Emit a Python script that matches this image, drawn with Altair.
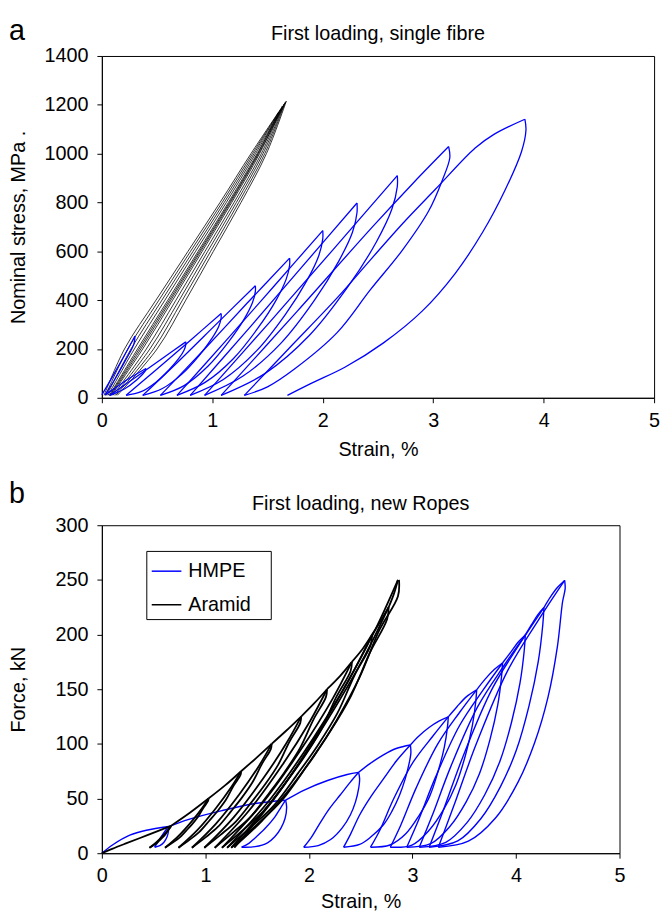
import altair as alt
import pandas as pd

FONT = "Liberation Sans"
MATERIALS = ["HMPE", "Aramid"]
COLORS = ["#0000ff", "#000000"]
PANEL_LABELS = ["a", "b"]
TITLES = ["First loading, single fibre", "First loading, new Ropes"]
X_TITLE = "Strain, %"
Y_TITLES = ["Nominal stress, MPa .", "Force, kN"]
X_TICKS = [0, 1, 2, 3, 4, 5]
A_Y_TICKS = [0, 200, 400, 600, 800, 1000, 1200, 1400]
B_Y_TICKS = [0, 50, 100, 150, 200, 250, 300]

# ---- panel a: single fibre, (strain %, stress MPa), one list per loading / unloading branch
A_HMPE = [
    [(0.00, 12), (0.10, 90), (0.20, 170), (0.30, 253)],
    [(0.30, 253), (0.29, 220), (0.21, 150), (0.11, 70), (0.03, 12)],
    [(0.03, 12), (0.12, 40), (0.25, 80), (0.40, 120)],
    [(0.40, 120), (0.39, 108), (0.32, 75), (0.20, 35), (0.07, 10)],
    [(0.07, 10), (0.30, 82), (0.55, 162), (0.76, 229)],
    [(0.76, 229), (0.76, 218), (0.744, 195), (0.695, 160), (0.609, 115), (0.49, 64), (0.355, 25), (0.22, 10)],
    [(0.22, 10), (0.50, 118), (0.80, 235), (1.08, 345)],
    [(1.08, 345), (1.08, 328), (1.059, 293), (0.995, 242), (0.881, 173), (0.725, 97), (0.548, 38), (0.37, 10)],
    [(0.37, 10), (0.70, 152), (1.05, 308), (1.39, 459)],
    [(1.39, 459), (1.39, 436), (1.364, 390), (1.287, 321), (1.149, 230), (0.96, 129), (0.745, 50), (0.53, 10)],
    [(0.53, 10), (0.92, 195), (1.31, 385), (1.70, 572)],
    [(1.70, 572), (1.70, 543), (1.669, 486), (1.578, 400), (1.414, 286), (1.19, 160), (0.935, 63), (0.68, 10)],
    [(0.68, 10), (1.12, 232), (1.56, 458), (2.00, 685)],
    [(2.00, 685), (2.00, 651), (1.964, 582), (1.856, 480), (1.664, 343), (1.40, 192), (1.10, 75), (0.80, 10)],
    [(0.80, 10), (1.30, 268), (1.80, 530), (2.31, 798)],
    [(2.31, 798), (2.31, 758), (2.269, 678), (2.144, 559), (1.924, 399), (1.62, 223), (1.275, 88), (0.93, 10)],
    [(0.93, 10), (1.51, 305), (2.09, 605), (2.675, 910)],
    [(2.675, 910), (2.675, 865), (2.627, 774), (2.484, 637), (2.228, 455), (1.878, 255), (1.479, 100), (1.08, 10)],
    [(1.08, 10), (1.77, 355), (2.45, 700), (2.82, 880), (3.14, 1029)],
    [(3.14, 1029), (3.15, 982), (3.08, 888), (2.96, 766), (2.72, 604), (2.43, 442), (2.13, 267), (1.75, 120), (1.50, 45), (1.29, 10)],
    [(1.29, 10), (1.70, 205), (2.13, 409), (2.43, 564), (2.72, 712), (3.02, 854), (3.38, 1023), (3.55, 1079), (3.83, 1141)],
    [(3.83, 1141), (3.84, 1097), (3.80, 1009), (3.65, 850), (3.45, 680), (3.20, 510), (2.90, 355), (2.55, 225), (2.20, 125), (1.90, 60), (1.68, 10)],
]

A_ARAMID = [
    [(0.02, 10), (0.205, 200), (0.49, 400), (0.78, 600), (1.07, 800), (1.35, 1000), (1.60, 1170)],
    [(1.60, 1170), (1.413, 1000), (1.156, 800), (0.884, 600), (0.612, 400), (0.338, 200), (0.074, 10)],
    [(0.032, 10), (0.235, 200), (0.517, 400), (0.803, 600), (1.089, 800), (1.364, 1000), (1.62, 1183)],
    [(1.62, 1183), (1.428, 1000), (1.176, 800), (0.909, 600), (0.641, 400), (0.37, 200), (0.087, 10)],
    [(0.044, 10), (0.264, 200), (0.544, 400), (0.826, 600), (1.108, 800), (1.378, 1000), (1.635, 1195)],
    [(1.635, 1195), (1.444, 1000), (1.197, 800), (0.934, 600), (0.671, 400), (0.403, 200), (0.10, 10)],
    [(0.056, 10), (0.294, 200), (0.571, 400), (0.849, 600), (1.127, 800), (1.392, 1000), (1.65, 1203)],
    [(1.65, 1203), (1.459, 1000), (1.218, 800), (0.959, 600), (0.701, 400), (0.435, 200), (0.114, 10)],
    [(0.068, 10), (0.323, 200), (0.598, 400), (0.872, 600), (1.146, 800), (1.406, 1000), (1.66, 1210)],
    [(1.66, 1210), (1.475, 1000), (1.239, 800), (0.985, 600), (0.73, 400), (0.468, 200), (0.127, 10)],
    [(0.08, 10), (0.353, 200), (0.625, 400), (0.895, 600), (1.165, 800), (1.42, 1000), (1.67, 1215)],
    [(1.67, 1215), (1.49, 1000), (1.26, 800), (1.01, 600), (0.76, 400), (0.50, 200), (0.14, 10)],
]

# ---- panel b: new ropes, (strain %, force kN)
B_HMPE = [
    [(0, 0), (0.11, 8), (0.27, 16.5), (0.43, 21), (0.646, 24.4)],
    [(0.646, 24.4), (0.645, 21), (0.63, 15), (0.60, 10), (0.56, 7), (0.51, 5.5)],
    [(0.51, 5.5), (0.54, 10), (0.58, 16), (0.62, 21.5), (0.646, 24.4)],
    [(0.646, 24.4), (0.84, 31), (1.16, 39), (1.48, 45.5), (1.775, 48.5)],
    [(1.775, 48.5), (1.785, 42), (1.77, 32), (1.73, 23), (1.67, 15), (1.60, 9.5), (1.48, 6), (1.35, 5.5)],
    [(1.35, 5.5), (1.42, 9), (1.48, 14), (1.58, 23), (1.67, 33), (1.73, 42), (1.775, 48.5)],
    [(1.775, 48.5), (1.96, 58), (2.18, 66.5), (2.37, 72), (2.48, 74)],
    [(2.48, 74), (2.49, 68), (2.48, 59), (2.45, 47), (2.40, 35), (2.32, 23), (2.21, 12.5), (2.09, 7), (1.95, 5.5)],
    [(1.95, 5.5), (2.02, 14), (2.11, 28), (2.20, 41), (2.30, 53), (2.40, 65), (2.48, 74)],
    [(2.48, 74), (2.59, 82), (2.72, 90), (2.85, 96), (2.98, 99)],
    [(2.98, 99), (2.985, 92), (2.97, 83), (2.93, 68), (2.875, 53), (2.80, 38), (2.72, 26), (2.60, 15), (2.49, 8), (2.335, 5.5)],
    [(2.335, 5.5), (2.40, 17), (2.49, 35), (2.60, 52), (2.72, 68), (2.85, 85), (2.98, 99)],
    [(2.98, 99), (3.06, 107), (3.16, 115), (3.26, 121), (3.346, 124.7)],
    [(3.346, 124.7), (3.339, 116), (3.308, 97), (3.248, 75), (3.166, 52), (3.061, 34), (2.933, 17.5), (2.783, 7.5), (2.595, 5.5)],
    [(2.595, 5.5), (2.685, 21), (2.82, 50), (3.008, 83.5), (3.196, 107), (3.346, 124.7)],
    [(3.346, 124.7), (3.43, 134), (3.52, 143), (3.62, 149.4)],
    [(3.62, 149.4), (3.612, 139), (3.578, 116.5), (3.512, 89.6), (3.42, 62.7), (3.303, 40.3), (3.161, 21), (2.995, 7.5), (2.786, 5.5)],
    [(2.786, 5.5), (2.886, 25.4), (3.036, 59.8), (3.245, 100), (3.453, 128.5), (3.62, 149.4)],
    [(3.62, 149.4), (3.70, 159), (3.79, 168), (3.87, 174)],
    [(3.87, 174), (3.861, 162), (3.824, 135.7), (3.75, 104.4), (3.648, 73), (3.519, 47), (3.361, 24.4), (3.176, 8.7), (2.945, 5.5)],
    [(2.945, 5.5), (3.056, 29.6), (3.223, 69.6), (3.454, 116.6), (3.685, 149.6), (3.87, 174)],
    [(3.87, 174), (3.95, 184), (4.02, 193), (4.09, 199.7)],
    [(4.09, 199.7), (4.08, 185.7), (4.039, 155.8), (3.957, 119.8), (3.844, 83.9), (3.701, 53.9), (3.527, 28), (3.322, 10), (3.066, 5.5)],
    [(3.066, 5.5), (3.189, 34), (3.373, 79.9), (3.629, 133.8), (3.885, 171.7), (4.09, 199.7)],
    [(4.09, 199.7), (4.15, 209), (4.21, 218), (4.27, 224.7)],
    [(4.27, 224.7), (4.259, 209), (4.215, 175.3), (4.126, 134.8), (4.004, 94.4), (3.849, 60.7), (3.66, 31.5), (3.438, 11.2), (3.161, 5.5)],
    [(3.161, 5.5), (3.294, 38.2), (3.494, 89.9), (3.771, 150.5), (4.048, 193.2), (4.27, 224.7)],
    [(4.27, 224.7), (4.33, 234), (4.40, 243), (4.47, 249.5)],
    [(4.47, 249.5), (4.475, 242), (4.45, 230), (4.40, 189), (4.31, 143), (4.18, 101), (4.02, 65), (3.80, 32), (3.54, 11), (3.25, 5.5)],
    [(3.25, 5.5), (3.396, 42.4), (3.616, 99.8), (3.921, 167.2), (4.226, 214.6), (4.47, 249.5)],
]

B_ARAMID = [
    [(0, 0), (0.1, 4), (0.22, 8.5), (0.44, 16.5), (0.667, 25)],
    [(0.667, 25), (0.665, 24), (0.642, 21.2), (0.617, 17.6), (0.589, 14.6), (0.561, 12), (0.527, 9), (0.495, 7), (0.46, 5)],
    [(0.46, 5), (0.522, 9.6), (0.584, 15.4), (0.636, 21), (0.667, 25)],
    [(0.667, 25), (0.85, 37), (1.03, 50)],
    [(1.03, 50), (1.026, 47.75), (0.98, 41.45), (0.929, 33.35), (0.873, 26.6), (0.816, 20.75), (0.747, 14), (0.681, 9.5), (0.61, 5)],
    [(0.61, 5), (0.736, 15.35), (0.862, 28.4), (0.967, 41), (1.03, 50)],
    [(1.03, 50), (1.19, 62), (1.345, 75)],
    [(1.345, 75), (1.339, 71.5), (1.272, 61.7), (1.2, 49.1), (1.118, 38.6), (1.036, 29.5), (0.937, 19), (0.843, 12), (0.74, 5)],
    [(0.74, 5), (0.922, 21.1), (1.103, 41.4), (1.254, 61), (1.345, 75)],
    [(1.345, 75), (1.49, 87), (1.64, 100)],
    [(1.64, 100), (1.632, 95.25), (1.548, 82), (1.455, 64.85), (1.351, 50.6), (1.247, 38.25), (1.12, 24), (1.001, 14.5), (0.87, 5)],
    [(0.87, 5), (1.101, 26.85), (1.332, 54.4), (1.525, 81), (1.64, 100)],
    [(1.64, 100), (1.78, 112), (1.925, 125)],
    [(1.925, 125), (1.916, 119), (1.813, 102.2), (1.701, 80.6), (1.574, 62.6), (1.448, 47), (1.294, 29), (1.149, 17), (0.99, 5)],
    [(0.99, 5), (1.271, 32.6), (1.551, 67.4), (1.785, 101), (1.925, 125)],
    [(1.925, 125), (2.05, 137), (2.175, 150)],
    [(2.175, 150), (2.164, 142.75), (2.045, 122.45), (1.915, 96.35), (1.768, 74.6), (1.622, 55.75), (1.443, 34), (1.274, 19.5), (1.09, 5)],
    [(1.09, 5), (1.416, 38.35), (1.741, 80.4), (2.012, 121), (2.175, 150)],
    [(2.175, 150), (2.30, 162), (2.415, 175)],
    [(2.415, 175), (2.402, 166.5), (2.264, 142.7), (2.114, 112.1), (1.944, 86.6), (1.775, 64.5), (1.568, 39), (1.373, 22), (1.16, 5)],
    [(1.16, 5), (1.537, 44.1), (1.913, 93.4), (2.227, 141), (2.415, 175)],
    [(2.415, 175), (2.52, 187), (2.61, 200)],
    [(2.61, 200), (2.596, 190.25), (2.442, 163), (2.274, 127.85), (2.085, 98.6), (1.896, 73.25), (1.665, 44), (1.448, 24.5), (1.21, 5)],
    [(1.21, 5), (1.63, 49.85), (2.05, 106.4), (2.4, 161), (2.61, 200)],
    [(2.61, 200), (2.69, 212), (2.77, 225)],
    [(2.77, 225), (2.755, 214), (2.588, 183.2), (2.405, 143.6), (2.2, 110.6), (1.995, 82), (1.744, 49), (1.508, 27), (1.25, 5)],
    [(1.25, 5), (1.706, 55.6), (2.162, 119.4), (2.542, 181), (2.77, 225)],
    [(2.77, 225), (2.82, 237), (2.86, 250)],
    [(2.87, 250), (2.86, 235), (2.68, 204), (2.49, 161), (2.27, 122), (2.05, 89), (1.79, 56), (1.54, 29), (1.28, 6)],
    [(1.28, 5), (1.754, 61.35), (2.228, 132.4), (2.623, 201), (2.86, 250)],
]


def to_frame(segments, material, prefix):
    rows = []
    for i, seg in enumerate(segments):
        for j, (s, v) in enumerate(seg):
            rows.append({"strain": s, "val": v, "material": material,
                         "seg": f"{prefix}{i}", "ord": j})
    return pd.DataFrame(rows)


color_scale = alt.Scale(domain=MATERIALS, range=COLORS)


def x_enc(title_pad):
    return alt.X("strain:Q", scale=alt.Scale(domain=[0, 5], nice=False, zero=False),
                 axis=alt.Axis(values=X_TICKS, title=X_TITLE, format="d",
                               labelFlush=False, labelPadding=8, titlePadding=title_pad))


def y_enc(domain, ticks, title):
    return alt.Y("val:Q", scale=alt.Scale(domain=domain, nice=False),
                 axis=alt.Axis(values=ticks, title=title, format="d",
                               labelFlush=False, labelPadding=9,
                               minExtent=56, maxExtent=56, titlePadding=18))


def lines(df, width, domain, ticks, ytitle, legend, title_pad):
    return alt.Chart(df).mark_line(interpolate="catmull-rom", strokeWidth=width).encode(
        x=x_enc(title_pad),
        y=y_enc(domain, ticks, ytitle),
        color=alt.Color("material:N", scale=color_scale, legend=legend),
        detail="seg:N",
        order="ord:Q",
    )


def panel_label(ch, y):
    return alt.Chart(pd.DataFrame({"lab": [ch]})).mark_text(
        font=FONT, fontSize=29, align="left", baseline="alphabetic", color="black"
    ).encode(x=alt.value(-94), y=alt.value(y), text="lab:N")


def panel_title(txt, width, y):
    return alt.Chart(pd.DataFrame({"t": [txt]})).mark_text(
        font=FONT, fontSize=20, align="center", baseline="alphabetic", color="black"
    ).encode(x=alt.value(width / 2), y=alt.value(y), text="t:N")


legend_b = alt.Legend(
    orient="none", legendX=45, legendY=26, title=None,
    labelFont=FONT, labelFontSize=20, labelColor="black",
    symbolType="stroke", symbolSize=900, symbolStrokeWidth=1.5,
    strokeColor="black", fillColor="white", padding=4.5, rowPadding=8,
    labelOffset=6, labelExpr="datum.label + '\u2800'",
)

panel_a = alt.layer(
    lines(to_frame(A_ARAMID, "Aramid", "aa"), 0.8, [0, 1400], A_Y_TICKS, Y_TITLES[0], None, 9),
    lines(to_frame(A_HMPE, "HMPE", "ah"), 1.3, [0, 1400], A_Y_TICKS, Y_TITLES[0], None, 9),
    panel_label(PANEL_LABELS[0], -16),
    panel_title(TITLES[0], 559, -16),
).properties(width=559, height=346)

panel_b = alt.layer(
    lines(to_frame(B_HMPE, "HMPE", "bh"), 1.4, [0, 300], B_Y_TICKS, Y_TITLES[1], legend_b, 6),
    lines(to_frame(B_ARAMID, "Aramid", "ba"), 1.8, [0, 300], B_Y_TICKS, Y_TITLES[1], legend_b, 6),
    panel_label(PANEL_LABELS[1], -23),
    panel_title(TITLES[1], 524, -15),
).properties(width=524, height=332)

chart = alt.vconcat(panel_a, panel_b, spacing=19).resolve_scale(
    color="independent"
).properties(
    padding={"top": 3, "left": 0, "right": 0, "bottom": 0}
).configure_view(
    stroke="black", strokeWidth=1
).configure_axis(
    labelFont=FONT, labelFontSize=20, labelColor="black",
    titleFont=FONT, titleFontSize=20, titleFontWeight="normal", titleColor="black",
    domainColor="black", tickColor="black", tickSize=5, grid=False,
)

chart.save("out.html", embed_options={"renderer": "svg", "actions": False})
